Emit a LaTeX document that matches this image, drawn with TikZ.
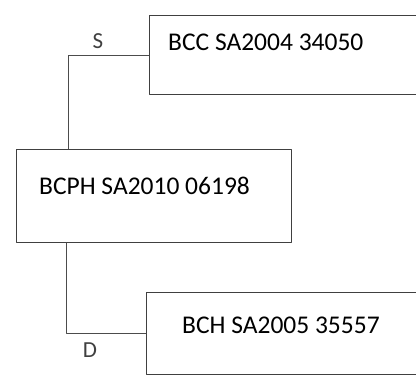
\documentclass[tikz,border=0pt]{standalone}
\usepackage{fontspec}
\setmainfont{Carlito}
\usetikzlibrary{positioning}
\tikzset{
  every picture/.style={line join=round, line cap=round},
  box/.style={draw=black!75, line width=0.9pt, inner sep=0pt, anchor=north west},
  idtext/.style={font=\fontsize{25.5}{28}\selectfont, inner sep=0pt, anchor=west},
  link/.style={draw=black!70, line width=0.8pt},
  sex/.style={font=\fontsize{23}{26}\selectfont, text=black!75, inner sep=0pt},
}

\begin{document}
\begin{tikzpicture}[x=1pt,y=-1pt]
\clip(0,0)rectangle(416,376);
% the three animals
\node[box,minimum width=300pt,minimum height=79pt](bcc)at(149,15){};
\node[idtext](bcctxt)at(168,42){BCC SA2004 34050};
\node[box,minimum width=275pt,minimum height=93pt](bcph)at(16,149){};
\node[idtext](bcphtxt)at(39,186){BCPH SA2010 06198};
\node[box,minimum width=300pt,minimum height=82pt](bch)at(146,292){};
\node[idtext](bchtxt)at(182,325){BCH SA2005 35557};
% sire and dam
\coordinate(sire)at(68,0);
\coordinate(dam)at(66,0);
\draw[link](bcph.north-|sire)|-(bcc.west);
\draw[link](bcph.south-|dam)|-(bch.west);
\node[sex](s)at(98,41){S};
\node[sex](d)at(90,350){D};
\end{tikzpicture}
\end{document}
